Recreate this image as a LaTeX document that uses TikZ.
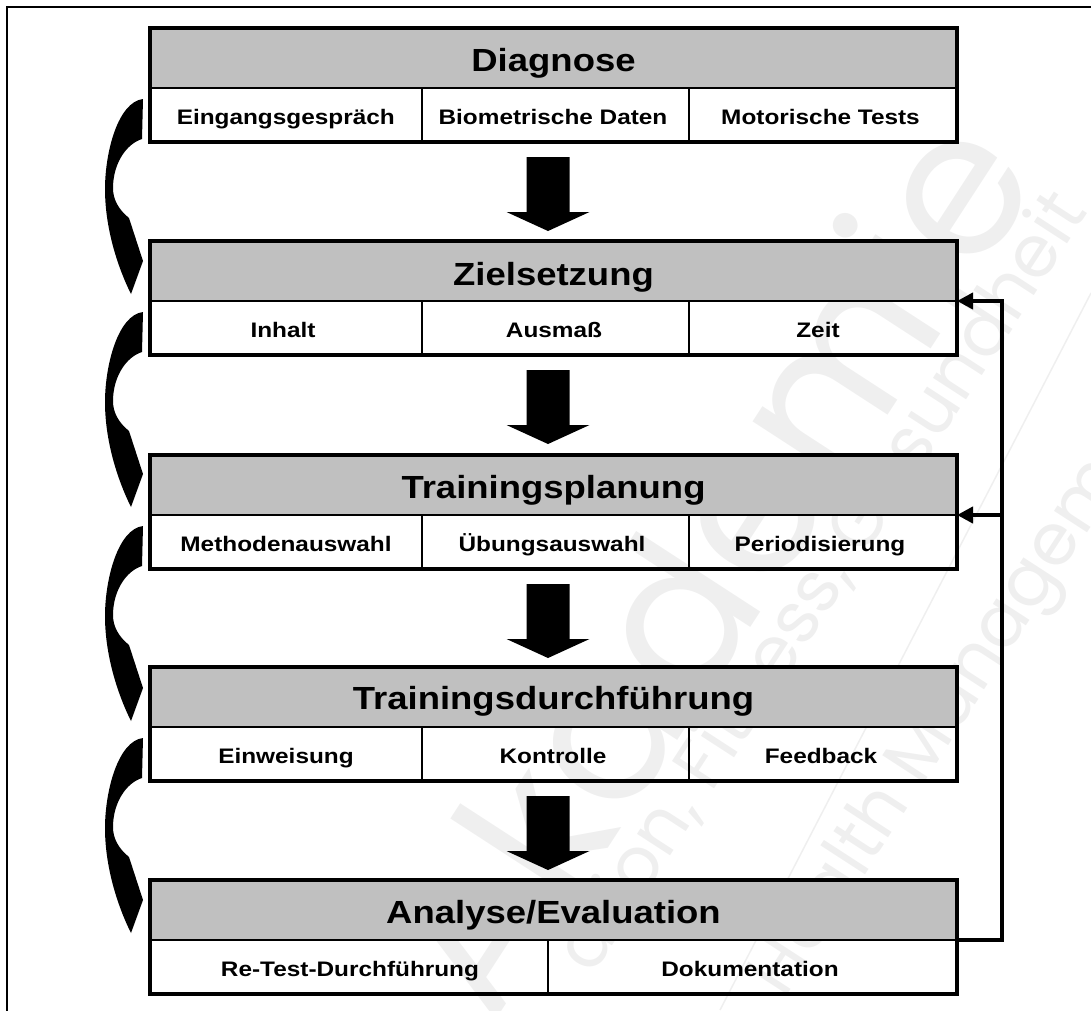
\documentclass[tikz,border=0pt]{standalone}
\usepackage{fontspec}
\setmainfont{Liberation Sans}
\newfontfamily\wmfont{Poppins}
\usetikzlibrary{arrows.meta,calc}
\definecolor{hdrgray}{RGB}{192,192,192}
\definecolor{wmgray}{RGB}{239,239,239}
\newcommand{\hdscale}[1]{\scalebox{1.14}[1]{#1}}
\newcommand{\sbscale}[1]{\scalebox{1.16}[1]{#1}}
\begin{document}
\begin{tikzpicture}[x=1pt,y=-1pt,
  hdrbox/.style={draw=black, line width=2pt, fill=hdrgray, minimum width=807pt, minimum height=60pt, inner sep=0pt, outer sep=0pt},
  cellbox/.style={draw=black, line width=2pt, minimum height=54pt, inner sep=0pt, outer sep=0pt},
  hdrtxt/.style={anchor=base, inner sep=0pt, font=\fontsize{32}{36}\selectfont\bfseries},
  subtxt/.style={anchor=base, inner sep=0pt, font=\fontsize{21}{24}\selectfont\bfseries},
  blockframe/.style={line width=4pt},
  blockarrow/.style={fill=black},
  fbline/.style={line width=4pt, -{Triangle[length=16pt,width=16pt]}},
  wmtext/.style={text=wmgray, inner sep=0pt, rotate=57}
]
\useasboundingbox (0,0) rectangle (1091,1010);
% watermark
\node[wmtext, font=\wmfont\fontsize{200}{200}\selectfont] (wm1) at (705,560) {Akademie};
\node[wmtext, font=\wmfont\fontsize{72}{72}\selectfont] (wm2) at (822,582) {ation, Fitness, Gesundheit};
\node[wmtext, font=\wmfont\fontsize{72}{72}\selectfont] (wm3) at (972,679) {Health Management};
\draw[wmgray, line width=1.5pt] (1091,293) -- (720,1010);
% outer frame
\draw[line width=2pt] (7,1012) -- (7,7) -- (1093,7);

% Block 1
\node[hdrbox] (h1) at (553.5,58) {};
\node[hdrtxt] (h1t) at (553.5,71) {\hdscale{Diagnose}};
\node[cellbox, minimum width=271.5pt] (c11) at (285.75,115) {};
\node[cellbox, minimum width=267pt] (c12) at (555,115) {};
\node[cellbox, minimum width=268.5pt] (c13) at (822.75,115) {};
\node[subtxt] (t11) at (285.75,124) {\sbscale{Eingangsgespräch}};
\node[subtxt] (t12) at (553,124) {\sbscale{Biometrische Daten}};
\node[subtxt] (t13) at (820.5,124) {\sbscale{Motorische Tests}};
\draw[blockframe] (h1.north west) rectangle (c13.south east);

% Block 2
\node[hdrbox] (h2) at (553.5,271) {};
\node[hdrtxt] (h2t) at (553.5,285) {\hdscale{Zielsetzung}};
\node[cellbox, minimum width=271.5pt] (c21) at (285.75,328) {};
\node[cellbox, minimum width=267pt] (c22) at (555,328) {};
\node[cellbox, minimum width=268.5pt] (c23) at (822.75,328) {};
\node[subtxt] (t21) at (283,337) {\sbscale{Inhalt}};
\node[subtxt] (t22) at (554,337) {\sbscale{Ausmaß}};
\node[subtxt] (t23) at (818,337) {\sbscale{Zeit}};
\draw[blockframe] (h2.north west) rectangle (c23.south east);

% Block 3
\node[hdrbox] (h3) at (553.5,485) {};
\node[hdrtxt] (h3t) at (553.5,498) {\hdscale{Trainingsplanung}};
\node[cellbox, minimum width=271.5pt] (c31) at (285.75,542) {};
\node[cellbox, minimum width=267pt] (c32) at (555,542) {};
\node[cellbox, minimum width=268.5pt] (c33) at (822.75,542) {};
\node[subtxt] (t31) at (286,551) {\sbscale{Methodenauswahl}};
\node[subtxt] (t32) at (552,551) {\sbscale{Übungsauswahl}};
\node[subtxt] (t33) at (820,551) {\sbscale{Periodisierung}};
\draw[blockframe] (h3.north west) rectangle (c33.south east);

% Block 4
\node[hdrbox] (h4) at (553.5,697) {};
\node[hdrtxt] (h4t) at (553.5,709) {\hdscale{Trainingsdurchführung}};
\node[cellbox, minimum width=271.5pt] (c41) at (285.75,754) {};
\node[cellbox, minimum width=267pt] (c42) at (555,754) {};
\node[cellbox, minimum width=268.5pt] (c43) at (822.75,754) {};
\node[subtxt] (t41) at (286,763) {\sbscale{Einweisung}};
\node[subtxt] (t42) at (553,763) {\sbscale{Kontrolle}};
\node[subtxt] (t43) at (821,763) {\sbscale{Feedback}};
\draw[blockframe] (h4.north west) rectangle (c43.south east);

% Block 5
\node[hdrbox] (h5) at (553.5,910) {};
\node[hdrtxt] (h5t) at (553.5,923) {\hdscale{Analyse/Evaluation}};
\node[cellbox, minimum width=398pt] (c51) at (349,967) {};
\node[cellbox, minimum width=409pt] (c52) at (752.5,967) {};
\node[subtxt] (t51) at (350,976) {\sbscale{Re-Test-Durchführung}};
\node[subtxt] (t52) at (750,976) {\sbscale{Dokumentation}};
\draw[blockframe] (h5.north west) rectangle (c52.south east);

% straight block arrows
\foreach \src in {c12,c22,c32,c42}{
  \fill[blockarrow, shift={($(\src.south)+(-7,15)$)}]
    (-21.5,0) -- (21.5,0) -- (21.5,55) -- (41.5,55) -- (0,74) -- (-41.5,55) -- (-21.5,55) -- cycle;
}
% curved arrows on the left
\foreach \src in {c11,c21,c31,c41}{
  \fill[blockarrow, shift={(\src.south west)}]
    (-7,-43) .. controls (-32,-40) and (-45,10) .. (-45,47)
    .. controls (-45,90) and (-30,130) .. (-19,152)
    -- (-7,119) -- (-21,76)
    .. controls (-32,67) and (-37,57) .. (-37,46)
    .. controls (-37,22) and (-24,2) .. (-8,-3) -- cycle;
}
% feedback connector
\coordinate (fbc) at (1002,301);
\draw[fbline] (h5.south east) -| (fbc) -- (h2.south east);
\draw[fbline] (fbc |- h3.south east) -- (h3.south east);
\end{tikzpicture}
\end{document}
